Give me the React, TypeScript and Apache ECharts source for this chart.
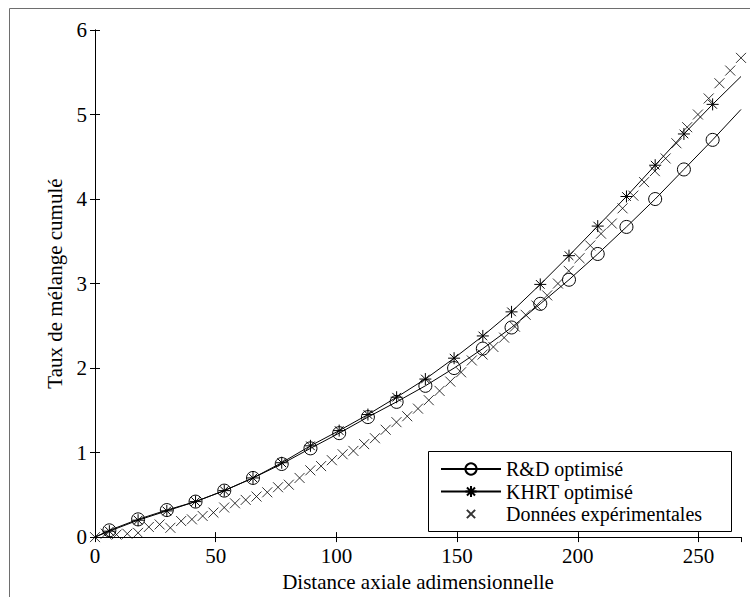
import React, { useEffect, useRef } from "react";
import * as echarts from "echarts";

// ---- Data ----
const modelX = [
  5.95, 17.85, 29.75, 41.65, 53.55, 65.45, 77.35, 89.25, 101.15, 113.05, 124.95,
  136.85, 148.75, 160.65, 172.55, 184.45, 196.35, 208.25, 220.15, 232.05, 243.95, 255.85,
];
const rdValues = [
  0.08, 0.21, 0.32, 0.42, 0.55, 0.7, 0.865, 1.05, 1.23, 1.42, 1.6, 1.79, 2.0, 2.23,
  2.48, 2.76, 3.045, 3.35, 3.67, 4.0, 4.35, 4.7,
];
const khrtValues = [
  0.07, 0.2, 0.31, 0.42, 0.55, 0.7, 0.88, 1.08, 1.26, 1.45, 1.655, 1.87, 2.117, 2.38,
  2.665, 2.99, 3.33, 3.68, 4.03, 4.4, 4.77, 5.12,
];
const rdEndValue = 5.06;
const khrtEndValue = 5.45;

const expX = [
  0, 4.46, 8.92, 13.38, 17.84, 22.3, 26.76, 31.22, 35.68, 40.14, 44.6, 49.06, 53.52,
  57.98, 62.44, 66.9, 71.36, 75.82, 80.28, 84.74, 89.2, 93.66, 98.12, 102.58, 107.04,
  111.5, 115.96, 120.42, 124.88, 129.34, 133.8, 138.26, 142.72, 147.18, 151.64, 156.1,
  160.56, 165.02, 169.48, 173.94, 178.4, 182.86, 187.32, 191.78, 196.24, 200.7, 205.16,
  209.62, 214.08, 218.54, 223.0, 227.46, 231.92, 236.38, 240.84, 245.3, 249.76, 254.22,
  258.68, 263.14, 267.6,
];
const expValues = [
  0, 0.04, 0.03, 0.04, 0.05, 0.12, 0.15, 0.11, 0.19, 0.21, 0.25, 0.29, 0.35, 0.4, 0.44,
  0.48, 0.53, 0.59, 0.62, 0.7, 0.79, 0.84, 0.91, 0.98, 1.02, 1.1, 1.17, 1.27, 1.36,
  1.43, 1.52, 1.62, 1.73, 1.84, 1.95, 2.09, 2.16, 2.25, 2.36, 2.49, 2.63, 2.74, 2.86,
  3.0, 3.15, 3.3, 3.45, 3.59, 3.71, 3.89, 4.04, 4.2, 4.33, 4.48, 4.66, 4.85, 5.0, 5.19,
  5.37, 5.52, 5.67,
];

const seriesNames = ["R&D optimisé", "KHRT optimisé", "Données expérimentales"];
const xAxisTitle = "Distance axiale adimensionnelle";
const yAxisTitle = "Taux de mélange cumulé";
const xMin = 0;
const xMax = 267.6;
const xInterval = 50;
const yMin = 0;
const yMax = 6;
const yInterval = 1;

const FONT = "Liberation Serif";
const ASTERISK =
  "path://M0,-1L0,1M-1,0L1,0M-0.72,-0.72L0.72,0.72M-0.72,0.72L0.72,-0.72";
const CROSS = "path://M-1,-1L1,1M-1,1L1,-1";
const CROSS_LEGEND = "path://M-1.7,-1.7M1.7,1.7M-1,-1L1,1M-1,1L1,-1";

function buildLine(values: number[], endValue: number) {
  return [
    { value: [0, 0], symbol: "none" },
    ...modelX.map((x, i) => [x, values[i]]),
    { value: [xMax, endValue], symbol: "none" },
  ];
}

export default function App() {
  const ref = useRef<HTMLDivElement>(null);
  useEffect(() => {
    if (!ref.current) return;
    const chart = echarts.init(ref.current, null, { renderer: "svg" });
    const axisCommon = {
      type: "value" as const,
      axisLine: { show: true, lineStyle: { color: "#000", width: 1 } },
      axisTick: { show: true, inside: true, length: 5, lineStyle: { color: "#000" } },
      splitLine: { show: false },
    };
    const markerStyle = {
      color: "rgba(0,0,0,0)",
      borderColor: "#000",
      borderWidth: 1,
    };
    chart.setOption({
      animation: false,
      backgroundColor: "#fff",
      grid: { left: 95, top: 30, right: 9, bottom: 56, containLabel: false },
      graphic: [
        {
          type: "rect",
          shape: { x: 9.5, y: 8.5, width: 800, height: 700 },
          style: { fill: "none", stroke: "#6e6e6e", lineWidth: 1 },
          silent: true,
          z: -1,
        },
        {
          type: "rect",
          shape: { x: 428.5, y: 451.5, width: 303, height: 80 },
          style: { fill: "#fff", stroke: "#000", lineWidth: 1 },
          silent: true,
          z: 5,
        },
      ],
      xAxis: [
        {
          ...axisCommon,
          min: xMin,
          max: xMax,
          interval: xInterval,
          position: "bottom",
          axisLabel: { show: true, color: "#000", fontFamily: FONT, fontSize: 21, margin: 8, showMaxLabel: false },
          name: xAxisTitle,
          nameLocation: "middle",
          nameGap: 27,
          nameTextStyle: { color: "#000", fontFamily: FONT, fontSize: 21 },
        },
        {
          ...axisCommon,
          min: xMin,
          max: xMax,
          interval: xInterval,
          position: "top",
          axisLabel: { show: false },
        },
      ],
      yAxis: [
        {
          ...axisCommon,
          min: yMin,
          max: yMax,
          interval: yInterval,
          position: "left",
          axisLabel: { show: true, color: "#000", fontFamily: FONT, fontSize: 21, margin: 8 },
          name: yAxisTitle,
          nameLocation: "middle",
          nameGap: 25,
          nameTextStyle: { color: "#000", fontFamily: FONT, fontSize: 21 },
        },
        {
          ...axisCommon,
          min: yMin,
          max: yMax,
          interval: yInterval,
          position: "right",
          axisLabel: { show: false },
        },
      ],
      legend: {
        orient: "vertical",
        left: 428,
        top: 451,
        padding: [8, 0, 0, 12],
        itemWidth: 60,
        itemHeight: 14,
        itemGap: 2.5,
        z: 10,
        textStyle: { color: "#000", fontFamily: FONT, fontSize: 20 },
        data: [
          { name: seriesNames[0] },
          { name: seriesNames[1] },
          { name: seriesNames[2], icon: CROSS_LEGEND },
        ],
      },
      series: [
        {
          name: seriesNames[0],
          type: "line",
          xAxisIndex: 0,
          yAxisIndex: 0,
          data: buildLine(rdValues, rdEndValue),
          symbol: "circle",
          symbolSize: 13,
          showAllSymbol: true,
          clip: false,
          lineStyle: { color: "#000", width: 1 },
          itemStyle: markerStyle,
        },
        {
          name: seriesNames[1],
          type: "line",
          xAxisIndex: 0,
          yAxisIndex: 0,
          data: buildLine(khrtValues, khrtEndValue),
          symbol: ASTERISK,
          symbolSize: 12,
          showAllSymbol: true,
          clip: false,
          lineStyle: { color: "#000", width: 1 },
          itemStyle: markerStyle,
        },
        {
          name: seriesNames[2],
          type: "scatter",
          xAxisIndex: 0,
          yAxisIndex: 0,
          data: expX.map((x, i) => [x, expValues[i]]),
          symbol: CROSS,
          symbolSize: 10,
          clip: false,
          itemStyle: markerStyle,
        },
      ],
    });
    return () => chart.dispose();
  }, []);
  return (
    <div
      ref={ref}
      style={{ position: "absolute", left: 0, top: 0, width: 750, height: 597, background: "#fff" }}
    />
  );
}
